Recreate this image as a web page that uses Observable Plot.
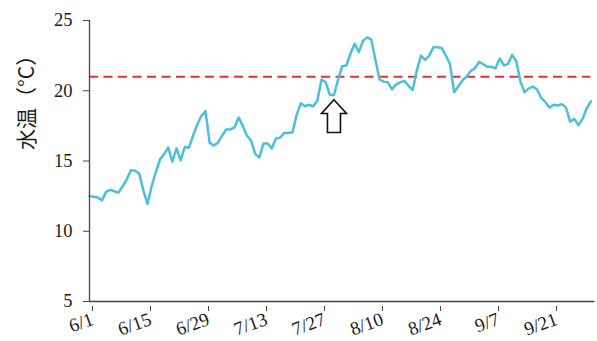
<!DOCTYPE html>
<html>
<head>
<meta charset="utf-8">
<script src="https://cdn.jsdelivr.net/npm/d3@7"></script>
<script src="https://cdn.jsdelivr.net/npm/@observablehq/plot@0.6"></script>
<style>
  html, body { margin: 0; padding: 0; background: #fff; }
  #chart svg { display: block; }
</style>
</head>
<body>
<div id="chart"></div>
<script>
// ---- data ----
const startDate = "2000-06-01";          // first day of the series (6/1)
const endDate = "2000-10-01";            // end of the x axis
const yLabel = "水温（°C）";
const threshold = 21;
const xTickLabels = ["6/1", "6/15", "6/29", "7/13", "7/27", "8/10", "8/24", "9/7", "9/21"];
const yTicks = [5, 10, 15, 20, 25];
const arrowDate = "2000-07-30";
const arrowValue = 18.2;
// daily water temperature, 6/1 .. 9/30
const temps = [
  12.5, 12.45, 12.4, 12.2, 12.8, 12.95, 12.85, 12.75, 13.2, 13.7,
  14.35, 14.3, 14.1, 12.9, 11.95, 13.2, 14.2, 15.1, 15.5, 15.95,
  14.95, 15.9, 15.05, 16.0, 15.95, 16.8, 17.6, 18.2, 18.55, 16.3,
  16.1, 16.3, 16.8, 17.25, 17.25, 17.4, 18.1, 17.5, 16.8, 16.45,
  15.5, 15.25, 16.25, 16.25, 15.9, 16.6, 16.65, 17.0, 17.0, 17.05,
  18.3, 19.1, 18.9, 19.0, 18.9, 19.3, 20.8, 20.6, 19.7, 19.7,
  20.8, 21.75, 21.8, 22.65, 23.35, 22.75, 23.55, 23.8, 23.65, 22.2,
  20.8, 20.65, 20.6, 20.1, 20.45, 20.6, 20.7, 20.35, 20.05, 21.45,
  22.5, 22.2, 22.5, 23.1, 23.1, 23.05, 22.5, 21.9, 19.9, 20.3,
  20.75, 21.0, 21.4, 21.6, 22.05, 21.9, 21.7, 21.7, 21.6, 22.3,
  21.8, 21.9, 22.55, 22.1, 20.65, 19.9, 20.15, 20.3, 20.1, 19.5,
  19.2, 18.8, 19.0, 18.95, 19.05, 18.8, 17.8, 18.0, 17.55, 18.0,
  18.75, 19.25
];

// ---- build tables ----
const t0 = new Date(startDate + "T00:00:00Z");
const data = temps.map((v, i) => ({date: d3.utcDay.offset(t0, i), value: v}));
const lastDate = data[data.length - 1].date;
const xTicks = xTickLabels.map(s => {
  const [m, d] = s.split("/").map(Number);
  return new Date(Date.UTC(2000, m - 1, d));
});
const tickFmt = d => (d.getUTCMonth() + 1) + "/" + d.getUTCDate();

// hollow up-arrow symbol (centered on its anchor)
const arrowSymbol = {
  draw(ctx) {
    const hw = 12.5, sw = 6.5, top = -16.3, neck = -2.6, bottom = 16.4;
    ctx.moveTo(0, top);
    ctx.lineTo(hw, neck);
    ctx.lineTo(sw, neck);
    ctx.lineTo(sw, bottom);
    ctx.lineTo(-sw, bottom);
    ctx.lineTo(-sw, neck);
    ctx.lineTo(-hw, neck);
    ctx.closePath();
  }
};

const chart = Plot.plot({
  width: 597,
  height: 341,
  marginLeft: 89,
  marginRight: 2.5,
  marginTop: 20,
  marginBottom: 40,
  style: {fontFamily: "'Liberation Serif', 'Times New Roman', serif", fontSize: "18px", color: "#1a1a1a", background: "#fff"},
  x: {type: "utc", domain: [t0, new Date(endDate + "T00:00:00Z")]},
  y: {domain: [5, 25]},
  marks: [
    Plot.ruleY([threshold], {x1: t0, x2: lastDate, stroke: "#e2312e", strokeWidth: 2, strokeDasharray: "9,5.5"}),
    Plot.line(data, {x: "date", y: "value", stroke: "#4bbfdc", strokeWidth: 2.5, strokeLinejoin: "round"}),
    Plot.dot([{date: new Date(arrowDate + "T00:00:00Z"), value: arrowValue}],
      {x: "date", y: "value", symbol: arrowSymbol, fill: "white", stroke: "#111", strokeWidth: 1.6}),
    Plot.ruleX([t0], {stroke: "#444", strokeWidth: 1.3}),
    Plot.ruleY([5], {stroke: "#444", strokeWidth: 1.3}),
    Plot.axisY({ticks: yTicks, tickSize: 6, tickPadding: 11, label: null, stroke: "#444", fontSize: 18.5}),
    Plot.axisX({ticks: xTicks, tickFormat: tickFmt, tickSize: 5, tickPadding: 7, tickRotate: -20,
      textAnchor: "end", label: null, stroke: "#444", fontSize: 19, dx: 3, dy: 5}),
    Plot.text([yLabel], {frameAnchor: "left", rotate: -90, dx: -62, dy: -11, fontSize: 21,
      fontFamily: "'Noto Sans CJK JP', sans-serif", fill: "#1a1a1a"})
  ]
});
document.getElementById("chart").appendChild(chart);
</script>
</body>
</html>
